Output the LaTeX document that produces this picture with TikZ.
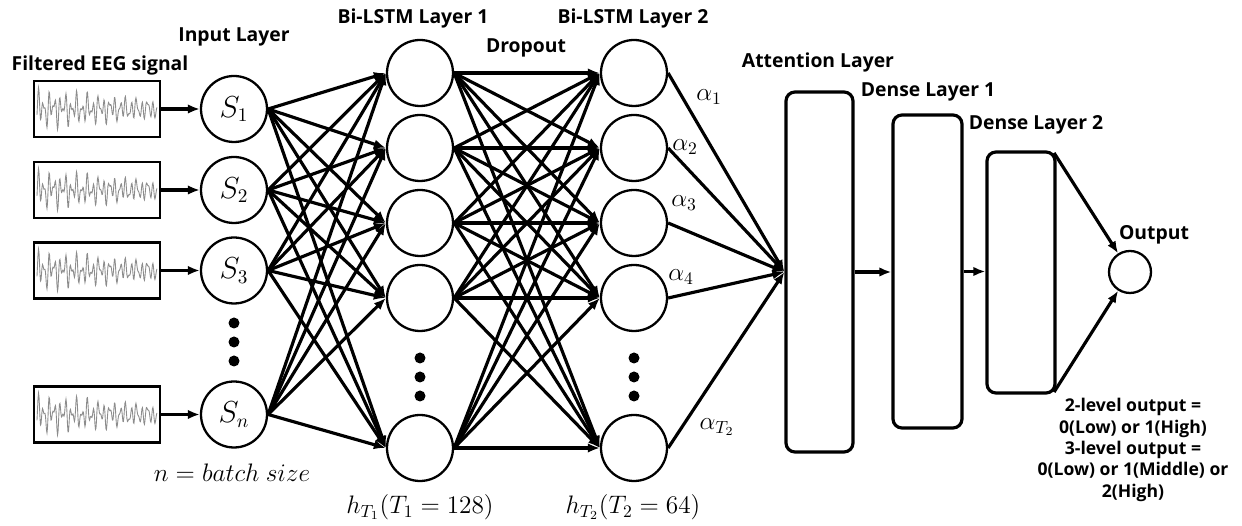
\documentclass[tikz,border=0pt]{standalone}
\usepackage{fontspec}
\setmainfont{Open Sans}
\usetikzlibrary{arrows.meta}

\tikzset{
  eegbox/.style={draw, line width=1.6pt, minimum width=2.52cm, minimum height=1.12cm, inner sep=0pt},
  eegline/.style={black!45, line width=0.5pt},
  neuron/.style={draw, circle, line width=1.3pt, minimum size=1.32cm, inner sep=0pt},
  layerbox/.style={draw, rounded corners=0.18cm, line width=1.8pt, inner sep=0pt},
  conn/.style={line width=1.8pt, -{Latex[length=2.4mm,width=1.9mm]}},
  title/.style={font=\fontsize{11}{13}\selectfont\bfseries},
  ellip/.style={circle, fill, inner sep=0pt, minimum size=0.22cm},
}

\begin{document}
\begin{tikzpicture}
  \useasboundingbox (0,0) rectangle (24.84,-10.52);

  % Signals and input layer
  \node[title] (tsig) at (2.0,-1.3) {Filtered EEG signal};
  \node[title] (tin) at (4.68,-0.74) {Input Layer};
  \foreach \n/\y in {1/-2.18, 2/-3.80, 3/-5.41, n/-8.29} {
    \node[eegbox] (e\n) at (1.94,\y) {};
    \draw[eegline, shift={(e\n.center)}] plot[domain=-1.2:1.2, samples=241]
      (\x, {(0.3-0.08*\x)*(0.55*sin(3300*\x)+0.35*sin(5200*\x+40)+0.25*sin(1500*\x+10))});
    \node[neuron] (s\n) at (4.68,\y) {\fontsize{16}{18}\selectfont $S_{\n}$};
    \draw[conn] (e\n) -- (s\n);
  }
  \foreach \y [count=\i] in {-6.46,-6.84,-7.22}
    \node[ellip] (din\i) at (4.68,\y) {};
  \node (nlbl) at (4.64,-9.46) {\fontsize{14}{16}\selectfont $n = batch\ size$};

  % Bi-LSTM layers
  \node[title] (tl1) at (8.26,-0.36) {Bi-LSTM Layer 1};
  \node[title] (tl2) at (12.66,-0.36) {Bi-LSTM Layer 2};
  \node[title] (tdrop) at (10.52,-0.96) {Dropout};
  \foreach \i/\y in {1/-1.46, 2/-2.96, 3/-4.46, 4/-5.96, 5/-8.96} {
    \node[neuron] (a\i) at (8.4,\y) {};
    \node[neuron] (b\i) at (12.68,\y) {};
  }
  \foreach \y [count=\i] in {-7.16,-7.54,-7.92} {
    \node[ellip] (da\i) at (8.4,\y) {};
    \node[ellip] (db\i) at (12.68,\y) {};
  }
  \node (ha) at (8.4,-10.14) {\fontsize{14}{16}\selectfont $h_{T_1}(T_1 = 128)$};
  \node (hb) at (12.66,-10.14) {\fontsize{14}{16}\selectfont $h_{T_2}(T_2 = 64)$};

  % fully connected
  \foreach \s in {1,2,3,n}
    \foreach \i in {1,...,5}
      \draw[conn] (s\s.east) -- (a\i.west);
  \foreach \i in {1,...,5}
    \foreach \j in {1,...,5}
      \draw[conn] (a\i.east) -- (b\j.west);

  % Attention and dense layers
  \node[title] (tatt) at (16.36,-1.24) {Attention Layer};
  \node[title] (td1) at (18.56,-1.84) {Dense Layer 1};
  \node[title] (td2) at (20.72,-2.5) {Dense Layer 2};
  \node[title] (tout) at (23.08,-4.7) {Output};
  \node[layerbox, minimum width=1.34cm, minimum height=7.2cm] (att) at (16.39,-5.44) {};
  \node[layerbox, minimum width=1.38cm, minimum height=6.26cm] (d1) at (18.55,-5.43) {};
  \node[layerbox, minimum width=1.36cm, minimum height=4.82cm] (d2) at (20.42,-5.45) {};
  \node[neuron, minimum size=0.84cm] (out) at (22.6,-5.44) {};

  \foreach \j in {1,...,5}
    \draw[conn] (b\j.east) -- (att.west);
  \node (al1) at (14.18,-1.94) {\fontsize{14}{16}\selectfont $\alpha_1$};
  \node (al2) at (13.70,-2.94) {\fontsize{14}{16}\selectfont $\alpha_2$};
  \node (al3) at (13.68,-4.06) {\fontsize{14}{16}\selectfont $\alpha_3$};
  \node (al4) at (13.62,-5.54) {\fontsize{14}{16}\selectfont $\alpha_4$};
  \node (al5) at (14.34,-8.54) {\fontsize{14}{16}\selectfont $\alpha_{T_2}$};

  \draw[conn] (att.east) -- (att.east -| d1.west);
  \draw[conn] (d1.east) -- (d1.east -| d2.west);
  \draw[conn] ([shift={(-0.05,-0.05)}]d2.north east) -- (out);
  \draw[conn] ([shift={(-0.05,0.05)}]d2.south east) -- (out);

  \node[align=center, font=\fontsize{10}{12.2}\selectfont\bfseries] (lvl) at (22.66,-9.0)
    {2-level output =\\0(Low) or 1(High)\\3-level output =\\0(Low) or 1(Middle) or\\2(High)};
\end{tikzpicture}
\end{document}
